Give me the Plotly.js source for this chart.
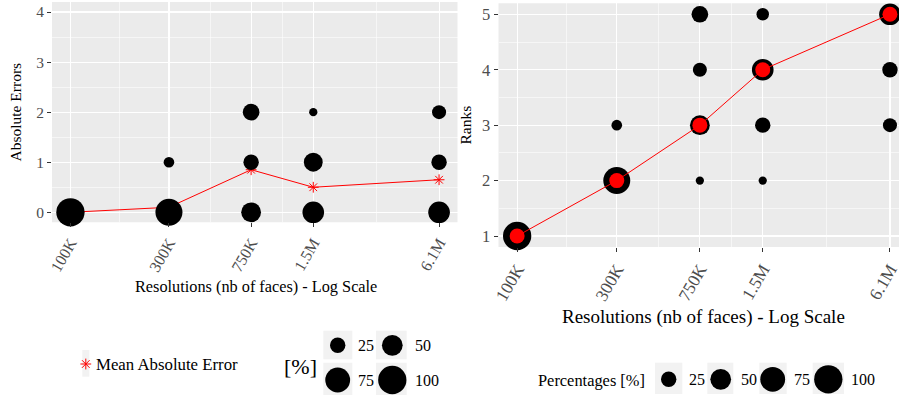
<!DOCTYPE html>
<html>
<head>
<meta charset="utf-8">
<script src="https://cdn.plot.ly/plotly-3.0.1.min.js"></script>
<style>html,body{margin:0;padding:0;background:#fff;}#chart{width:899px;height:396px;}</style>
</head>
<body>
<div id="chart"></div>
<script>
// ---------------- DATA ----------------
const resolutions = [100000, 300000, 750000, 1500000, 6100000];
const resolutionLabels = ['100K', '300K', '750K', '1.5M', '6.1M'];
const errorLevels = [0, 1, 2];
// percentage of answers per resolution at each absolute error level
const errorPct0 = [100, 90, 45, 55, 55];
const errorPct1 = [0, 10, 25, 40, 25];
const errorPct2 = [0, 0, 30, 5, 20];
const meanAbsoluteError = [0, 0.1, 0.85, 0.5, 0.65];
const rankLevels = [1, 2, 3, 4, 5];
// percentage of answers per resolution at each rank
const rankPct1 = [100, 0, 0, 0, 0];
const rankPct2 = [0, 90, 5, 5, 0];
const rankPct3 = [0, 10, 45, 25, 20];
const rankPct4 = [0, 0, 20, 55, 25];
const rankPct5 = [0, 0, 30, 15, 55];
const trueRanks = [1, 2, 3, 4, 5];
const sizeBreaks = [25, 50, 75, 100];
const errorTicks = [0, 1, 2, 3, 4];
const rankTicks = [1, 2, 3, 4, 5];

// ---------------- STYLE ----------------
const W = 899, H = 396;
const FONT = 'Liberation Serif, Times New Roman, serif';
const TICKCOL = '#4d4d4d';
const sizeOf = p => 2.5 + 2.58 * Math.sqrt(p);   // ggplot-like size scale (px diameter)
const px = v => v / W, py = v => 1 - v / H;

function bubbleTraces(levels, pctRows, xa, ya) {
  const out = [];
  levels.forEach((lev, i) => {
    const xs = [], ys = [], ss = [];
    resolutions.forEach((r, j) => {
      const p = pctRows[i][j];
      if (p > 0) { xs.push(r); ys.push(lev); ss.push(sizeOf(p)); }
    });
    out.push({type: 'scatter', mode: 'markers', x: xs, y: ys, xaxis: xa, yaxis: ya,
      marker: {color: '#000', opacity: 1, size: ss, sizemode: 'diameter', line: {width: 0}},
      showlegend: false, hoverinfo: 'skip', cliponaxis: false});
  });
  return out;
}

const traces = [];
// left panel: mean absolute error line (drawn beneath bubbles)
traces.push({type: 'scatter', mode: 'lines+markers', x: resolutions, y: meanAbsoluteError,
  xaxis: 'x', yaxis: 'y', line: {color: '#ff0000', width: 1},
  marker: {symbol: 'asterisk-open', size: 9, color: '#ff0000', opacity: 1, line: {color: '#ff0000', width: 1}},
  showlegend: false, cliponaxis: false});
traces.push(...bubbleTraces(errorLevels, [errorPct0, errorPct1, errorPct2], 'x', 'y'));
// right panel
traces.push(...bubbleTraces(rankLevels, [rankPct1, rankPct2, rankPct3, rankPct4, rankPct5], 'x2', 'y2'));
traces.push({type: 'scatter', mode: 'lines+markers', x: resolutions, y: trueRanks,
  xaxis: 'x2', yaxis: 'y2', line: {color: '#ff0000', width: 1},
  marker: {symbol: 'circle', size: 15, color: '#ff0000', opacity: 1, line: {width: 0}},
  showlegend: false, cliponaxis: false});

// legend keys (drawn on a helper pixel-coordinate axis)
const leftKeyPos = [[337.7, 345.3], [392.3, 345.3], [337.7, 380], [392.3, 380]];
const rightKeyPos = [[668.7, 379.3], [720.7, 379.3], [772.7, 379.3], [828.3, 379.3]];
traces.push({type: 'scatter', mode: 'markers', xaxis: 'x3', yaxis: 'y3',
  x: leftKeyPos.map(p => p[0]).concat(rightKeyPos.map(p => p[0])),
  y: leftKeyPos.map(p => p[1]).concat(rightKeyPos.map(p => p[1])),
  marker: {color: '#000', opacity: 1, size: sizeBreaks.concat(sizeBreaks).map(sizeOf), line: {width: 0}},
  showlegend: false, hoverinfo: 'skip', cliponaxis: false});
traces.push({type: 'scatter', mode: 'markers', xaxis: 'x3', yaxis: 'y3', x: [85.8], y: [364],
  marker: {symbol: 'asterisk-open', size: 9, color: '#ff0000', opacity: 1, line: {color: '#ff0000', width: 1}},
  showlegend: false, hoverinfo: 'skip', cliponaxis: false});

const shapes = [];
// panel backgrounds
shapes.push({type: 'rect', xref: 'paper', yref: 'paper', x0: px(52), x1: px(457.5), y0: py(222.3), y1: py(2),
  fillcolor: '#ebebeb', line: {width: 0}, layer: 'below'});
shapes.push({type: 'rect', xref: 'paper', yref: 'paper', x0: px(498.5), x1: 1, y0: py(247.1), y1: py(3.2),
  fillcolor: '#ebebeb', line: {width: 0}, layer: 'below'});
// legend key backgrounds
const keyBg = [[82.3, 89.3, 350, 376.7],
  [323.3, 352.3, 330.7, 359.3], [376, 406.7, 330.7, 359.3], [323.3, 352.3, 362.7, 395], [376, 406.7, 362.7, 395],
  [655, 682.3, 362.7, 394], [707.3, 733.3, 362.7, 394], [759.3, 786.7, 362.7, 394], [812.7, 844, 362.7, 394]];
keyBg.forEach(b => shapes.push({type: 'rect', xref: 'x3', yref: 'y3', x0: b[0], x1: b[1], y0: b[2], y1: b[3],
  fillcolor: '#f2f2f2', line: {width: 0}, layer: 'below'}));

const ann = (text, x, y, size, opts) => Object.assign({text, x, y, xref: 'x3', yref: 'y3', showarrow: false,
  xanchor: 'center', yanchor: 'middle', font: {family: FONT, size, color: '#000'}}, opts || {});
const annotations = [
  ann('Absolute Errors', 15, 112.5, 15.5, {textangle: -90}),
  ann('Resolutions (nb of faces) - Log Scale', 255.5, 286.7, 16.3),
  ann('Ranks', 464.5, 125, 15.5, {textangle: -90}),
  ann('Resolutions (nb of faces) - Log Scale', 703.5, 317, 19),
  ann('Mean Absolute Error', 94, 364, 16.8, {xanchor: 'left'}),
  ann('[%]', 300, 366, 22),
  ann(String(sizeBreaks[0]), 356, 345.3, 16, {xanchor: 'left'}),
  ann(String(sizeBreaks[1]), 413, 345.3, 16, {xanchor: 'left'}),
  ann(String(sizeBreaks[2]), 356, 380, 16, {xanchor: 'left'}),
  ann(String(sizeBreaks[3]), 413, 380, 16, {xanchor: 'left'}),
  ann('Percentages [%]', 536, 380, 16.4, {xanchor: 'left'}),
  ann(String(sizeBreaks[0]), 687.3, 379.3, 16, {xanchor: 'left'}),
  ann(String(sizeBreaks[1]), 739.3, 379.3, 16, {xanchor: 'left'}),
  ann(String(sizeBreaks[2]), 791.5, 379.3, 16, {xanchor: 'left'}),
  ann(String(sizeBreaks[3]), 849.3, 379.3, 16, {xanchor: 'left'})
];

const logMin = Math.log10(resolutions[0]), logMax = Math.log10(resolutions[resolutions.length - 1]);
const pad = 0.05 * (logMax - logMin);
const minorX = resolutions.slice(1).map((r, i) => Math.sqrt(r * resolutions[i]));
const xBase = (fs) => ({type: 'log', tickmode: 'array', tickvals: resolutions, ticktext: resolutionLabels,
  tickangle: -60, ticks: 'outside', ticklen: 4, tickwidth: 1, tickcolor: '#333333',
  showgrid: true, gridcolor: '#ffffff', gridwidth: 1.1, zeroline: false, showline: false,
  tickfont: {family: FONT, size: fs, color: TICKCOL}, ticklabeloverflow: 'allow',
  minor: {tickmode: 'array', tickvals: minorX, showgrid: true, gridcolor: '#ffffff', gridwidth: 0.55, ticks: ''},
  fixedrange: true});
const yBase = (vals, fs) => ({tickmode: 'array', tickvals: vals, ticks: 'outside', ticklen: 4, tickwidth: 1,
  tickcolor: '#333333', showgrid: true, gridcolor: '#ffffff', gridwidth: 1.1, zeroline: false, showline: false,
  tickfont: {family: FONT, size: fs, color: TICKCOL},
  minor: {tickmode: 'array', tickvals: vals.slice(1).map(v => v - 0.5), showgrid: true, gridcolor: '#ffffff', gridwidth: 0.55, ticks: ''},
  fixedrange: true});

const layout = {
  width: W, height: H, margin: {l: 0, r: 0, t: 0, b: 0},
  paper_bgcolor: '#ffffff', plot_bgcolor: 'rgba(0,0,0,0)', showlegend: false,
  xaxis: Object.assign(xBase(16), {domain: [px(52), px(457.5)], anchor: 'y', range: [logMin - pad, logMax + pad]}),
  yaxis: Object.assign(yBase(errorTicks, 15.5), {domain: [py(222.3), py(2)], anchor: 'x',
    range: [errorTicks[0] - 0.05 * (errorTicks[4] - errorTicks[0]), errorTicks[4] + 0.05 * (errorTicks[4] - errorTicks[0])]}),
  xaxis2: Object.assign(xBase(17.5), {domain: [px(498.5), 1], anchor: 'y2',
    range: [logMin - pad, (logMin - pad) + (logMax - logMin + 2 * pad) * (899 - 498.5) / (908.6 - 498.5)]}),
  yaxis2: Object.assign(yBase(rankTicks, 16.5), {domain: [py(247.1), py(3.2)], anchor: 'x2',
    range: [rankTicks[0] - 0.05 * (rankTicks[4] - rankTicks[0]), rankTicks[4] + 0.05 * (rankTicks[4] - rankTicks[0])]}),
  xaxis3: {domain: [0, 1], range: [0, W], visible: false, anchor: 'y3', fixedrange: true},
  yaxis3: {domain: [0, 1], range: [H, 0], visible: false, anchor: 'x3', fixedrange: true},
  shapes, annotations
};

Plotly.newPlot('chart', traces, layout, {staticPlot: true});
</script>
</body>
</html>
